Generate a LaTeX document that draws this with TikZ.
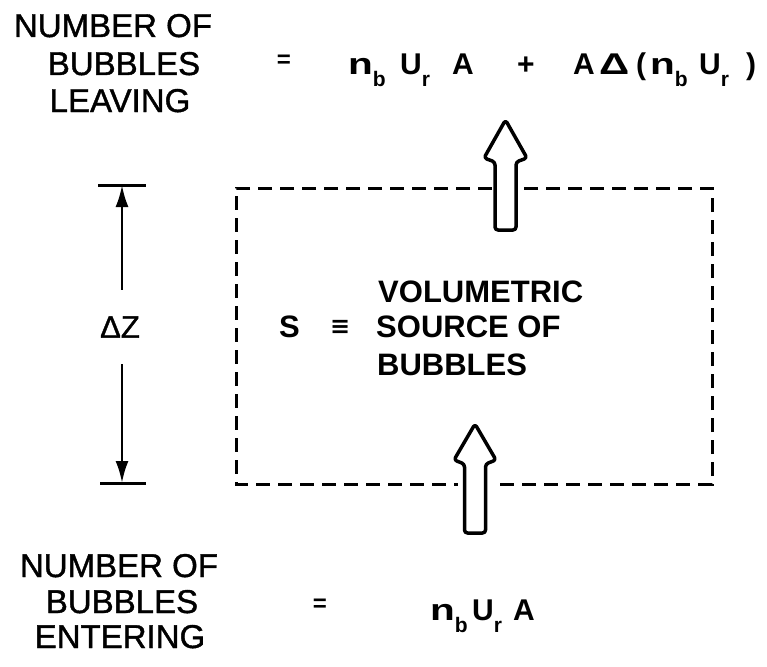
\documentclass[tikz,border=0pt]{standalone}
\usepackage{graphicx}
\usepackage{fontspec}
\setmainfont{Liberation Sans}
\newfontfamily\lblfont[FakeBold=1.2]{Liberation Sans}
\newfontfamily\symf{DejaVu Sans}
\usetikzlibrary{arrows.meta}
\newcommand\lsub[1]{\raisebox{-0.40em}{\fontsize{21}{21}\selectfont #1}}
\newcommand\wn{\scalebox{1.35}[1]{n}}
\begin{document}
\begin{tikzpicture}[x=1pt,y=-1pt,
  lbl/.style={font=\lblfont\fontsize{33}{33}\selectfont, inner sep=0pt, anchor=base},
  ctr/.style={font=\bfseries\fontsize{31}{31}\selectfont, inner sep=0pt, anchor=base west},
  frm/.style={font=\bfseries\fontsize{30}{30}\selectfont, inner sep=0pt, anchor=base west},
  eqs/.style={font=\bfseries\fontsize{24}{24}\selectfont, inner sep=0pt, anchor=base},
  boxline/.style={line width=3pt, dash pattern=on 14pt off 8pt},
  dimline/.style={line width=2.6pt, -{Latex[length=22pt,width=13pt]}},
  tickline/.style={line width=3pt},
  hollow/.style={line width=3.5pt, rounded corners=3pt, fill=white, line join=round}]
\useasboundingbox (0,0) rectangle (767,666);

% top labels
\node[lbl] (lt1) at (113,37) {NUMBER OF};
\node[lbl] (lt2) at (124,75) {BUBBLES};
\node[lbl] (lt3) at (120,112) {LEAVING};
\node[eqs] (eqt) at (284,68) {=};
\node[frm] (ftop) at (348,75) {\makebox[52pt][l]{\wn\lsub{b}}\makebox[52pt][l]{U\lsub{r}}\makebox[65pt][l]{A}\makebox[56pt][l]{+}\makebox[26pt][l]{A}\makebox[37pt][l]{\scalebox{1.4}[1]{Δ}}\makebox[14pt][l]{(}\makebox[49pt][l]{\wn\lsub{b}}\makebox[47pt][l]{U\lsub{r}})};

% bottom labels
\node[lbl] (lb1) at (119,577) {NUMBER OF};
\node[lbl] (lb2) at (122,613) {BUBBLES};
\node[lbl] (lb3) at (120,648) {ENTERING};
\node[eqs] (eqb) at (320,611) {=};
\node[frm] (fbot) at (430,620) {\makebox[42pt][l]{\wn\lsub{b}}\makebox[41pt][l]{U\lsub{r}}A};

% centre text
\node[ctr] (c1) at (378,302) {VOLUMETRIC};
\node[ctr] (c2) at (376,337) {SOURCE OF};
\node[ctr] (c3) at (377,375) {BUBBLES};
\node[ctr] (cs) at (279,337) {S};
\node[ctr, font=\symf\bfseries\fontsize{24}{24}\selectfont] (ceq) at (330,334) {≡};

% dimension
\node[font=\lblfont\fontsize{31}{31}\selectfont, minimum height=74pt, inner sep=0pt] (dz) at (120,327) {ΔZ};
\coordinate (ttop) at (122,185);
\coordinate (tbot) at (122,483);
\draw[tickline] ([xshift=-24pt]ttop) -- ([xshift=24pt]ttop);
\draw[tickline] ([xshift=-22pt]tbot) -- ([xshift=24pt]tbot);
\draw[dimline] (dz.north -| ttop) -- (ttop);
\draw[dimline] (dz.south -| tbot) -- (tbot);

% control volume
\coordinate (bTL) at (236,188);
\coordinate (bTR) at (712,188);
\coordinate (bBL) at (236,484);
\coordinate (bBR) at (712,484);
\draw[boxline] (492,188) -- (bTL) -- (bBL) -- (458,484);
\draw[boxline] (500,484) -- (bBR) -- (bTR) -- (521,188);

% hollow arrows
\draw[hollow] (495,230) -- (495,162) -- (484,158) -- (505.5,120) -- (527,158) -- (516,162) -- (516,230) -- cycle;
\draw[hollow] (464.5,533) -- (464.5,464) -- (454,460) -- (475,424) -- (496,460) -- (485.5,464) -- (485.5,533) -- cycle;
\end{tikzpicture}
\end{document}
